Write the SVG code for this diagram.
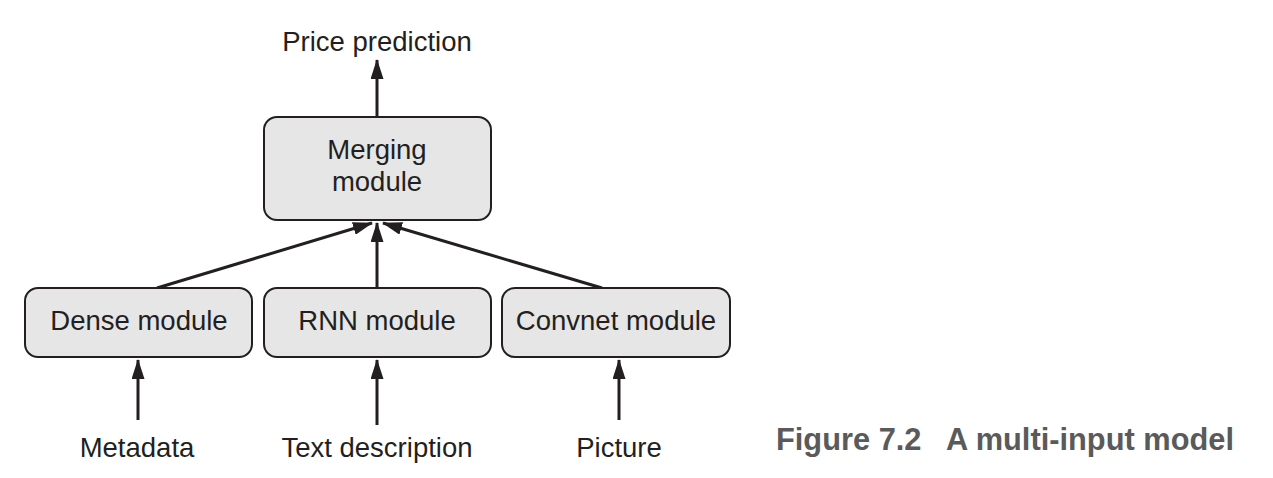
<svg xmlns="http://www.w3.org/2000/svg" width="1273" height="478" viewBox="0 0 1273 478">
<style>
.box{fill:#e6e6e6;stroke:#231f20;stroke-width:2}
.lbl{font-family:"Liberation Sans",Arial,sans-serif;font-size:27.5px;fill:#231f20;text-anchor:middle}
.edge{stroke:#231f20;stroke-width:3;fill:none;marker-end:url(#ah)}
.cap{font-family:"Liberation Sans",Arial,sans-serif;font-weight:bold;font-size:31px;fill:#5a5a5a}
</style>
<defs>
<marker id="ah" viewBox="0 0 20 13" refX="19" refY="6.5" markerWidth="20" markerHeight="13" markerUnits="userSpaceOnUse" orient="auto">
<path d="M0,0 L20,6.5 L0,13 Z" fill="#231f20"/>
</marker>
</defs>
<rect width="1273" height="478" fill="#ffffff"/>
<g id="connectors">
<line class="edge" x1="377" y1="117" x2="377" y2="60"/>
<line class="edge" x1="157" y1="288" x2="372" y2="223"/>
<line class="edge" x1="377" y1="288" x2="377" y2="223"/>
<line class="edge" x1="602" y1="288" x2="383" y2="223"/>
<line class="edge" x1="138" y1="420" x2="138" y2="360"/>
<line class="edge" x1="377" y1="425" x2="377" y2="360"/>
<line class="edge" x1="619" y1="420" x2="619" y2="360"/>
</g>
<g id="price">
<text class="lbl" x="377" y="51">Price prediction</text>
</g>
<g id="merging">
<rect class="box" x="264" y="117" width="227" height="103" rx="13"/>
<text class="lbl" x="377" y="159">Merging</text>
<text class="lbl" x="377" y="191">module</text>
</g>
<g id="dense">
<rect class="box" x="25" y="288" width="227" height="69" rx="13"/>
<text class="lbl" x="139" y="330">Dense module</text>
</g>
<g id="rnn">
<rect class="box" x="264" y="288" width="227" height="69" rx="13"/>
<text class="lbl" x="377" y="330">RNN module</text>
</g>
<g id="convnet">
<rect class="box" x="502" y="288" width="228" height="69" rx="13"/>
<text class="lbl" x="616" y="330">Convnet module</text>
</g>
<g id="metadata">
<text class="lbl" x="137" y="457">Metadata</text>
</g>
<g id="textdesc">
<text class="lbl" x="377" y="457">Text description</text>
</g>
<g id="picture">
<text class="lbl" x="619" y="457">Picture</text>
</g>
<g id="caption">
<text class="cap" x="776" y="450" textLength="458" lengthAdjust="spacingAndGlyphs" xml:space="preserve">Figure 7.2   A multi-input model</text>
</g>
</svg>
